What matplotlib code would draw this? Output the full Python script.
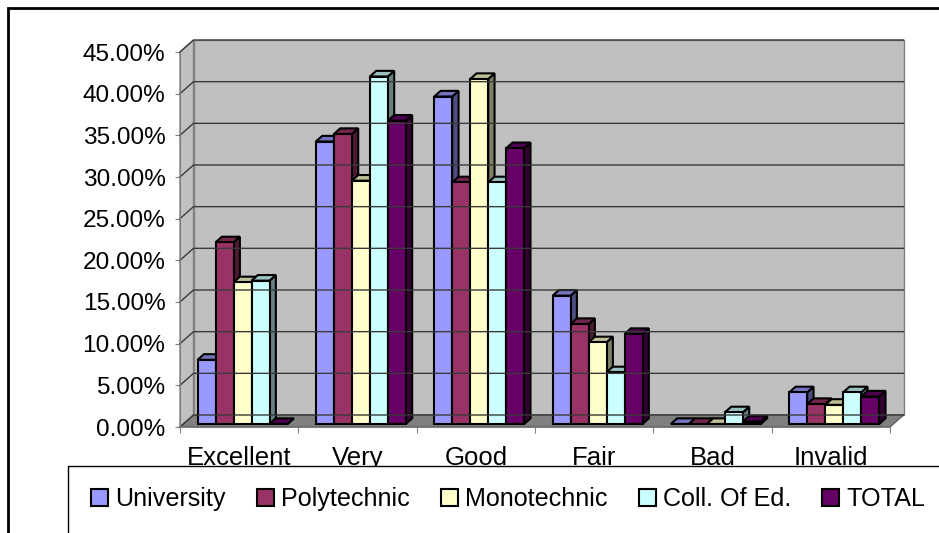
import matplotlib
matplotlib.use("Agg")
import matplotlib.pyplot as plt
from matplotlib.patches import Rectangle, Polygon, Patch
from matplotlib.colors import to_rgb

plt.rcParams["font.family"] = ["Liberation Sans", "DejaVu Sans"]

# ---------------- data (percent) ----------------
categories = ["Excellent", "Very", "Good", "Fair", "Bad", "Invalid"]
series = ["University", "Polytechnic", "Monotechnic", "Coll. Of Ed.", "TOTAL"]
university  = [7.7, 33.9, 39.3, 15.4, 0.0, 3.8]
polytechnic = [21.8, 34.8, 29.0, 12.0, 0.0, 2.4]
monotechnic = [17.0, 29.2, 41.4, 9.8, 0.0, 2.3]
coll_of_ed  = [17.2, 41.7, 29.0, 6.2, 1.4, 3.8]
total       = [0.0, 36.4, 33.1, 10.8, 0.3, 3.3]
values = [university, polytechnic, monotechnic, coll_of_ed, total]
colors = ["#9999FF", "#993366", "#FFFFCC", "#CCFFFF", "#660066"]
yticks = [0, 5, 10, 15, 20, 25, 30, 35, 40, 45]

W, H = 939, 533
fig = plt.figure(figsize=(W / 100, H / 100), dpi=100)
ax = fig.add_axes([180 / W, (H - 427) / H, 710 / W, 375 / H])
ax.set_xlim(0, len(categories))
ax.set_ylim(0, 45)
ax.patch.set_visible(False)

# pseudo-3d depth, pixels converted to data units
DX_PX, DY_PX = 13.5, 12.0
ddx = DX_PX * len(categories) / 710
ddy = DY_PX * 45 / 375

def shade(c, k):
    r, g, b = to_rgb(c)
    return (r * k, g * k, b * k)

ncat = len(categories)
# walls + floor
ax.add_patch(Polygon([(0, 0), (0, 45), (ddx, 45 + ddy), (ddx, ddy)],
                     closed=True, fc="#C0C0C0", ec="#808080", lw=1, clip_on=False))
ax.add_patch(Rectangle((ddx, ddy), ncat, 45, fc="#C0C0C0", ec="#808080",
                       lw=1, clip_on=False))
for v in yticks:
    ax.plot([0, ddx, ncat + ddx], [v, v + ddy, v + ddy], color="#3a3a3a",
            lw=1, clip_on=False)
ax.add_patch(Polygon([(0, 0), (ncat, 0), (ncat + ddx, ddy), (ddx, ddy)],
                     closed=True, fc="#808080", ec="#606060", lw=1, clip_on=False))

# bars: side, top, then front face
f0, f1 = 0.25, 0.72
bw = 0.152
margin = (1 - bw * len(series)) / 2
bx, by = (f1 - f0) * ddx, (f1 - f0) * ddy
for i in range(ncat):
    for j, (vals, c) in enumerate(zip(values, colors)):
        v = vals[i]
        x = i + margin + j * bw + f0 * ddx
        b = f0 * ddy
        ax.add_patch(Polygon([(x + bw, b), (x + bw, b + v), (x + bw + bx, b + v + by),
                              (x + bw + bx, b + by)], closed=True,
                             fc=shade(c, 0.5), ec="black", lw=1.5, clip_on=False))
        ax.add_patch(Polygon([(x, b + v), (x + bw, b + v), (x + bw + bx, b + v + by),
                              (x + bx, b + v + by)], closed=True,
                             fc=shade(c, 0.75), ec="black", lw=1.5, clip_on=False))
        ax.add_patch(Rectangle((x, b), bw, v, fc=c, ec="black", lw=1.5, clip_on=False))

# axes styling
for s in ["top", "right"]:
    ax.spines[s].set_visible(False)
ax.spines["left"].set_color("#808080")
ax.spines["bottom"].set_color("#808080")
ax.set_yticks(yticks)
ax.set_yticklabels([f"{v:.2f}%" for v in yticks])
ax.tick_params(axis="y", direction="out", length=3.5, color="#808080",
               labelsize=17.6, pad=7)
ax.set_xticks(range(ncat + 1))
ax.set_xticklabels([])
ax.set_xticks([i + 0.5 for i in range(ncat)], minor=True)
ax.set_xticklabels(categories, minor=True)
ax.tick_params(axis="x", which="major", direction="out", length=4, color="#808080")
ax.tick_params(axis="x", which="minor", length=0, labelsize=18.5, pad=13.5)

# outer chart border and legend box
fig.patches.append(Rectangle((8 / W, -0.1), 1.2, 1.1 - 8 / H, transform=fig.transFigure,
                             fill=False, ec="black", lw=2, zorder=1))
fig.patches.append(Rectangle((68 / W, -0.1), 1.2, 0.1 + (H - 466) / H,
                             transform=fig.transFigure, fc="white", ec="black",
                             lw=1, zorder=4))

handles = [Patch(fc=c, ec="black", lw=1.5) for c in colors]
leg = fig.legend(handles, series, ncol=5, loc="center left",
                 bbox_to_anchor=(91 / W, (H - 499) / H), frameon=False, fontsize=18.1,
                 handlelength=0.68, handleheight=0.68, handletextpad=0.28,
                 columnspacing=1.24, borderpad=0, borderaxespad=0)
leg.set_zorder(5)

fig.savefig("out.png", dpi=100)
